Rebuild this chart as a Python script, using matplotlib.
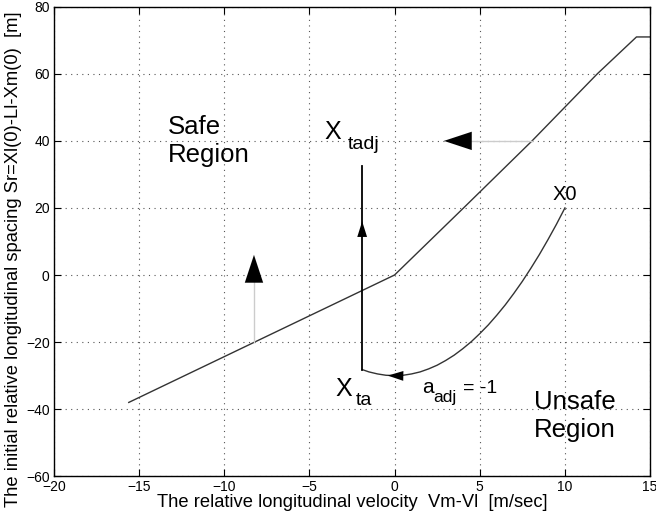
import matplotlib.pyplot as plt

plt.rcParams['font.family'] = ['Liberation Sans', 'DejaVu Sans']

# switching boundary (safe / unsafe)
bound_v = [-15.6, 0, 4.05, 8.07, 11.9, 14.2, 15]
bound_s = [-38, 0, 20, 40, 60, 71, 71]

# trajectory from X0 with a_adj = -1
traj_v = [10, 9.5, 9, 8.5, 8, 7.5, 7, 6.5, 6, 5.5, 5, 4.5, 4, 3.5, 3, 2.5, 2,
          1.5, 1, 0.5, 0, -0.5, -1, -1.5, -1.9]
traj_s = [20, 15.1, 10.5, 6.1, 2, -1.9, -5.5, -8.9, -12, -14.9, -17.5, -19.9,
          -22, -23.9, -25.5, -26.9, -28, -28.9, -29.5, -29.9, -30, -29.9, -29.5,
          -28.9, -28.2]

# jump from X_ta up to X_tadj
adj_v = [-1.9, -1.9]
adj_s = [-28.2, 32.5]

# gray "direction" arrows
up_v = [-8.25, -8.25]
up_s = [-20, 0]
left_v = [8.07, 4.15]
left_s = [40, 40]

fig = plt.figure(figsize=(6.56, 5.21), dpi=100)
ax = fig.add_axes([0.082, 0.086, 0.909, 0.901])

ax.plot(bound_v, bound_s, color='#333333', lw=1.0)
ax.plot(traj_v, traj_s, color='#333333', lw=1.0)
ax.plot(adj_v, adj_s, color='black', lw=1.3)

ax.plot(up_v, up_s, color='#cccccc', lw=1.0)
ax.plot(left_v, left_s, color='#cccccc', lw=1.0)

# big filled heads
big = dict(arrowstyle='-|>,head_length=1.0,head_width=0.33', color='black', lw=0.01,
           mutation_scale=20, shrinkA=0, shrinkB=0)
ax.annotate('', xy=(-8.25, 6), xytext=(-8.25, 0), arrowprops=big)
ax.annotate('', xy=(2.9, 40), xytext=(4.15, 40), arrowprops=big)

# small heads on the trajectory
small = dict(arrowstyle='-|>,head_length=0.7,head_width=0.22', color='black', lw=0.01,
             mutation_scale=16, shrinkA=0, shrinkB=0)
ax.annotate('', xy=(-1.9, 16), xytext=(-1.9, 10), arrowprops=small)
ax.annotate('', xy=(-0.4, -30), xytext=(0.6, -30.1), arrowprops=small)

ax.text(-13.3, 47.8, 'Safe\nRegion', fontsize=18.5, va='top', ha='left', linespacing=1.2)
ax.text(8.2, -34.3, 'Unsafe\nRegion', fontsize=18.5, va='top', ha='left', linespacing=1.2)
ax.text(9.3, 22.5, 'X0', fontsize=14.5, va='baseline', ha='left')

ax.text(-4.1, 40.5, 'X', fontsize=18, va='baseline', ha='left')
ax.text(-2.75, 37.5, 'tadj', fontsize=14, va='baseline', ha='left')
ax.text(-3.45, -36, 'X', fontsize=18, va='baseline', ha='left')
ax.text(-2.3, -38.8, 'ta', fontsize=14, va='baseline', ha='left')
ax.text(1.6, -35.3, 'a', fontsize=15, va='baseline', ha='left')
ax.text(2.25, -38, 'adj', fontsize=12.5, va='baseline', ha='left')
ax.text(4.0, -35.3, '= -1', fontsize=14, va='baseline', ha='left')

ax.set_xlim(-20, 15)
ax.set_ylim(-60, 80)
ax.set_xticks(range(-20, 16, 5))
ax.set_yticks(range(-60, 81, 20))
ax.tick_params(direction='in', top=True, right=True, labelsize=10, length=5, pad=3)
ax.grid(True, linestyle=(0, (1, 4)), color='#555555', lw=0.8)
for s in ax.spines.values():
    s.set_linewidth(1.0)

ax.set_xlabel('The relative longitudinal velocity  Vm-Vl  [m/sec]', fontsize=13.2, labelpad=0)
ax.set_ylabel('The initial relative longitudinal spacing Sr=Xl(0)-Ll-Xm(0)  [m]', fontsize=13.2)
ax.yaxis.set_label_coords(-0.053, 0.463)

fig.savefig('out.png', dpi=100)
